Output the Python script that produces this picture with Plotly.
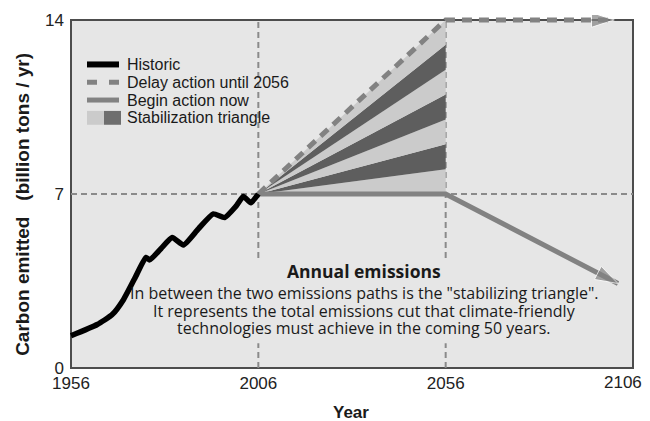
import plotly.graph_objects as go

# historic emissions (billion tons of carbon / yr)
hist_years = [1956, 1963, 1967, 1970, 1973, 1976, 1977, 1980, 1983, 1986, 1990, 1994, 1997, 2000, 2002, 2004, 2006]
hist_values = [1.3, 1.75, 2.15, 2.75, 3.6, 4.45, 4.35, 4.8, 5.25, 4.95, 5.6, 6.2, 6.05, 6.5, 6.9, 6.65, 7.0]

# the two paths
delay_years = [2006, 2056, 2101]
delay_values = [7, 14, 14]
action_years = [2006, 2056, 2102]
action_values = [7, 7, 3.4]

# stabilization triangle wedges
wedge_start, wedge_end = 2006, 2056
wedge_edges = [7, 8, 9, 10, 11, 12, 13, 14]

# reference lines
ref_years = [2006, 2056]
ref_level = 7

x_ticks = [1956, 2006, 2056, 2106]
y_ticks = [0, 7, 14]

legend_labels = ["Historic", "Delay action until 2056", "Begin action now", "Stabilization triangle"]
note_title = "Annual emissions"
note_lines = ['In between the two emissions paths is the "stabilizing triangle".',
              'It represents the total emissions cut that climate-friendly',
              'technologies must achieve in the coming 50 years.']

BG = "#e6e6e6"
GRAY = "#828282"
LIGHT = "#cbcbcb"
DARK = "#5e5e5e"
SANS = "Liberation Sans, Arial"

# page body has an 8px margin, so the figure sits at (8, 8) in the window
OFF = 8
L, T, W, H = 65, 11, 571, 360          # plot area in window pixels
FW, FH = 650 - OFF, 421 - OFF
px = lambda v: (v - L) / W
py = lambda v: (T + H - v) / H

# axis scale: 1956 -> 71px, 2106 -> 633px, 0 -> 368px, 14 -> 16px
pxyr = (633 - 71) / 150
pyu = (368 - 16) / 14
xr = [1956 - (71 - L) / pxyr, 2106 + (L + W - 633) / pxyr]
yr_ = [-(T + H - 368) / pyu, 14 + (16 - T) / pyu]
xd = lambda v: 1956 + (v - 71) / pxyr
yd = lambda v: (368 - v) / pyu

fig = go.Figure()

# wedges
for k in range(len(wedge_edges) - 1):
    fig.add_trace(go.Scatter(
        x=[wedge_start, wedge_end, wedge_end, wedge_start],
        y=[wedge_edges[0], wedge_edges[k], wedge_edges[k + 1], wedge_edges[0]],
        fill="toself", fillcolor=LIGHT if k % 2 == 0 else DARK,
        mode="lines", line=dict(width=0), hoverinfo="skip", showlegend=False))

fig.add_trace(go.Scatter(
    x=action_years, y=action_values, mode="lines+markers",
    line=dict(color=GRAY, width=5),
    marker=dict(symbol="arrow", angleref="previous", color=GRAY,
                size=[0] * (len(action_years) - 1) + [24]),
    showlegend=False))

fig.add_trace(go.Scatter(
    x=delay_years, y=delay_values, mode="lines+markers",
    line=dict(color=GRAY, width=5, dash="10px,7px"),
    marker=dict(symbol="arrow", angleref="previous", color=GRAY,
                size=[0] * (len(delay_years) - 1) + [24]),
    showlegend=False))

fig.add_trace(go.Scatter(
    x=hist_years, y=hist_values, mode="lines",
    line=dict(color="black", width=5.5, shape="spline", smoothing=0.5),
    showlegend=False))

# frame and dashed reference lines
fig.add_shape(type="rect", x0=x_ticks[0], x1=x_ticks[-1], y0=y_ticks[0], y1=y_ticks[-1],
              fillcolor=BG, line=dict(color="#4d4d4d", width=2), layer="below")
for yr in ref_years:
    fig.add_shape(type="line", x0=yr, x1=yr, y0=y_ticks[0], y1=y_ticks[-1],
                  line=dict(color="#8a8a8a", width=2, dash="6px,4px"), layer="below")
fig.add_shape(type="line", x0=x_ticks[0], x1=x_ticks[-1], y0=ref_level, y1=ref_level,
              line=dict(color="#8a8a8a", width=2, dash="6px,4px"), layer="below")

# background patch behind the note text (breaks the dashed lines)
fig.add_shape(type="rect", x0=xd(235), x1=xd(475), y0=yd(343), y1=yd(257),
              fillcolor=BG, line=dict(width=0), layer="below")

# manual legend
fig.add_shape(type="rect", xref="paper", yref="paper", x0=px(80), x1=px(296), y0=py(128), y1=py(42),
              fillcolor=BG, line=dict(width=0), layer="below")
fig.add_shape(type="line", xref="paper", yref="paper", x0=px(87), x1=px(119), y0=py(61), y1=py(61),
              line=dict(color="black", width=6))
fig.add_shape(type="line", xref="paper", yref="paper", x0=px(87), x1=px(119), y0=py(79), y1=py(79),
              line=dict(color=GRAY, width=5, dash="10px,12px"))
fig.add_shape(type="line", xref="paper", yref="paper", x0=px(87), x1=px(119), y0=py(97), y1=py(97),
              line=dict(color=GRAY, width=5))
fig.add_shape(type="rect", xref="paper", yref="paper", x0=px(87), x1=px(104), y0=py(122), y1=py(108),
              fillcolor=LIGHT, line=dict(width=0))
fig.add_shape(type="rect", xref="paper", yref="paper", x0=px(104), x1=px(121), y0=py(122), y1=py(108),
              fillcolor="#6e6e6e", line=dict(width=0))
for i, lab in enumerate(legend_labels):
    fig.add_annotation(xref="paper", yref="paper", x=px(125), y=py(61 + 18 * i), text=lab,
                       showarrow=False, xanchor="left", yanchor="middle",
                       font=dict(family=SANS, size=16, color="#1a1a1a"))

# text in the plot
fig.add_annotation(x=xd(364), y=yd(270), text="<b>%s</b>" % note_title, showarrow=False,
                   xanchor="center", yanchor="middle",
                   font=dict(family="Open Sans", size=17.5, color="#1a1a1a"))
for i, line in enumerate(note_lines):
    fig.add_annotation(x=xd(364), y=yd(292 + 18 * i), text=line, showarrow=False,
                       xanchor="center", yanchor="middle",
                       font=dict(family="Open Sans", size=16, color="#1a1a1a"))

# last x tick label is pulled inside the page
fig.add_annotation(x=x_ticks[-1], xref="x", yref="paper", y=py(383), text=str(x_ticks[-1]),
                   showarrow=False, xanchor="right", yanchor="middle", xshift=11,
                   font=dict(family=SANS, size=17, color="#222"))

# axis titles
fig.add_annotation(xref="paper", yref="paper", x=px(351), y=py(413), text="<b>Year</b>",
                   showarrow=False, xanchor="center", yanchor="middle",
                   font=dict(family=SANS, size=17, color="#1a1a1a"))
fig.add_annotation(xref="paper", yref="paper", x=px(23), y=py(203),
                   text="<b>Carbon emitted\u00a0\u00a0\u00a0(billion tons / yr)</b>", textangle=-90,
                   showarrow=False, xanchor="center", yanchor="middle",
                   font=dict(family=SANS, size=19, color="#1a1a1a"))

fig.update_xaxes(range=xr, tickvals=x_ticks, ticktext=[str(v) for v in x_ticks[:-1]] + [""],
                 showgrid=False, zeroline=False, showline=False, ticks="",
                 ticklabeloverflow="allow",
                 tickfont=dict(family=SANS, size=17, color="#222"))
fig.update_yaxes(range=yr_, tickvals=y_ticks, showgrid=False,
                 zeroline=False, showline=False, ticks="", ticklabeloverflow="allow",
                 tickfont=dict(family=SANS, size=17, color="#222"))

fig.update_layout(width=FW, height=FH,
                  margin=dict(l=L - OFF, r=FW - (L - OFF) - W, t=T - OFF, b=FH - (T - OFF) - H),
                  plot_bgcolor="white", paper_bgcolor="white", showlegend=False)

fig.write_html("out.html")
